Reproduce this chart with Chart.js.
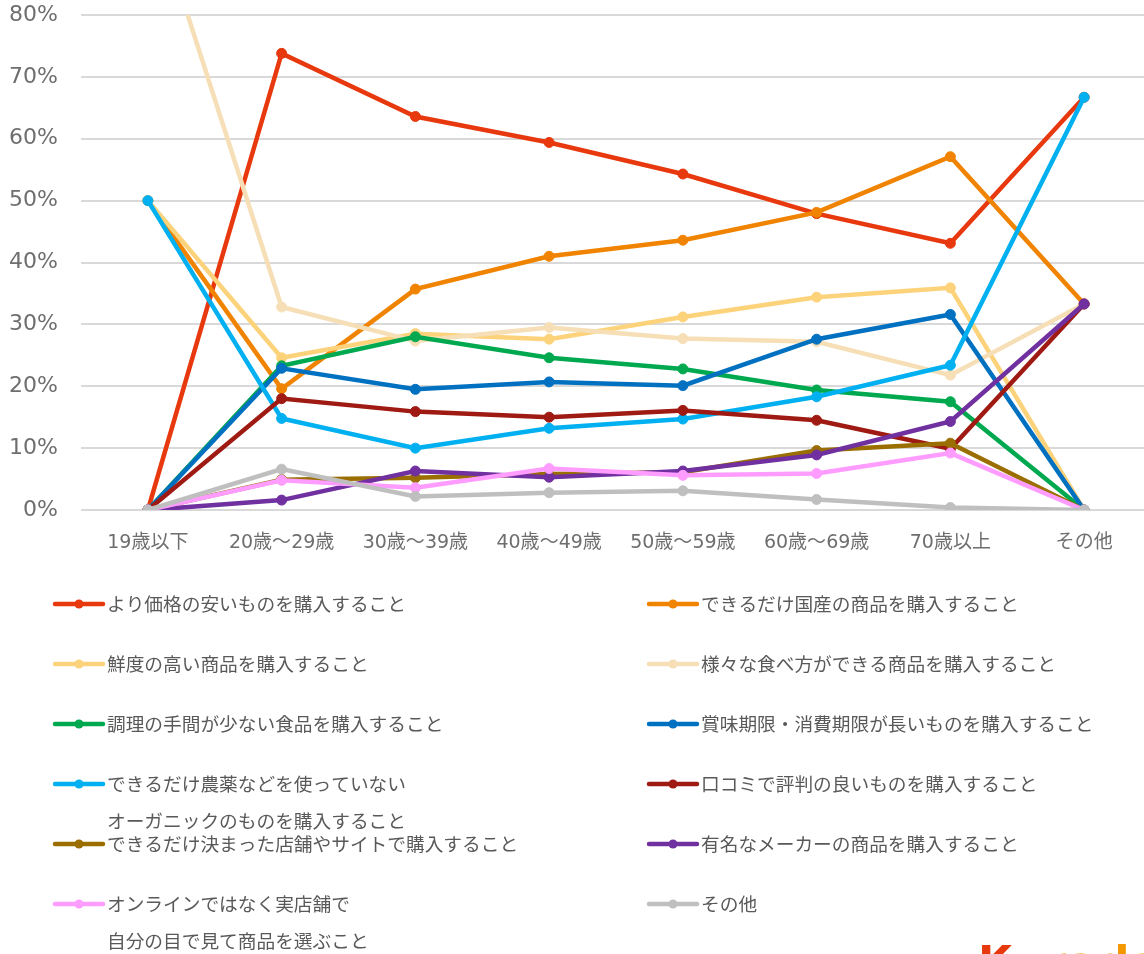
<!DOCTYPE html>
<html lang="ja">
<head>
<meta charset="utf-8">
<title>年代別 購入時に意識していること</title>
<script src="https://cdn.jsdelivr.net/npm/chart.js@4/dist/chart.umd.min.js"></script>
<style>
  html, body { margin: 0; padding: 0; background: #fff; overflow: hidden; }
  #wrap { position: relative; width: 1144px; height: 954px; overflow: hidden; }
  #chart { position: absolute; left: 0; top: 0; }
  .logo {
    position: absolute; left: 978px; top: 937px;
    font: bold 44px "DejaVu Sans", sans-serif; letter-spacing: 1px;
    color: #f39800; white-space: nowrap;
  }
  .logo span { color: #e8380d; }
</style>
</head>
<body>
<div id="wrap">
  <canvas id="chart" width="1160" height="954"></canvas>
  <div class="logo"><span>K</span>uradashi</div>
</div>
<script>
  // 年代カテゴリ
  const ageGroups = ['19歳以下', '20歳～29歳', '30歳～39歳', '40歳～49歳', '50歳～59歳', '60歳～69歳', '70歳以上', 'その他'];

  // 項目ごとの割合(%)
  const cheaper     = [0, 73.8, 63.6, 59.4, 54.3, 47.9, 43.1, 66.7];
  const domestic    = [50, 19.6, 35.7, 41.0, 43.6, 48.1, 57.1, 33.3];
  const freshness   = [50, 24.6, 28.5, 27.6, 31.2, 34.4, 35.9, 0];
  const versatile   = [100, 32.8, 27.3, 29.5, 27.7, 27.2, 21.8, 33.3];
  const easyCook    = [0, 23.3, 28.0, 24.6, 22.8, 19.4, 17.5, 0];
  const longExpiry  = [0, 22.9, 19.5, 20.7, 20.1, 27.6, 31.6, 0];
  const organic     = [50, 14.8, 10.0, 13.2, 14.7, 18.3, 23.4, 66.7];
  const reviews     = [0, 18.0, 15.9, 15.0, 16.1, 14.5, 9.9, 33.3];
  const sameShop    = [0, 4.9, 5.2, 5.8, 6.1, 9.6, 10.8, 0];
  const famousMaker = [0, 1.6, 6.3, 5.3, 6.3, 8.9, 14.3, 33.3];
  const realStore   = [0, 4.8, 3.6, 6.7, 5.6, 5.9, 9.2, 0];
  const others      = [0, 6.6, 2.2, 2.8, 3.1, 1.7, 0.4, 0];

  // 目盛り
  const yTicks = [0, 10, 20, 30, 40, 50, 60, 70, 80];

  const series = [
    { label: ['より価格の安いものを購入すること'], data: cheaper, color: '#e8380d' },
    { label: ['できるだけ国産の商品を購入すること'], data: domestic, color: '#f08300' },
    { label: ['鮮度の高い商品を購入すること'], data: freshness, color: '#fcd27a' },
    { label: ['様々な食べ方ができる商品を購入すること'], data: versatile, color: '#f6dfb6' },
    { label: ['調理の手間が少ない食品を購入すること'], data: easyCook, color: '#00a94f' },
    { label: ['賞味期限・消費期限が長いものを購入すること'], data: longExpiry, color: '#0070c0' },
    { label: ['できるだけ農薬などを使っていない', 'オーガニックのものを購入すること'], data: organic, color: '#00b0f0' },
    { label: ['口コミで評判の良いものを購入すること'], data: reviews, color: '#9e1a12' },
    { label: ['できるだけ決まった店舗やサイトで購入すること'], data: sameShop, color: '#9a6e00' },
    { label: ['有名なメーカーの商品を購入すること'], data: famousMaker, color: '#7030a0' },
    { label: ['オンラインではなく実店舗で', '自分の目で見て商品を選ぶこと'], data: realStore, color: '#ff9cff' },
    { label: ['その他'], data: others, color: '#bfbfbf' }
  ];

  const datasets = series.map((s, i) => ({
    label: s.label,
    data: s.data,
    borderColor: s.color,
    backgroundColor: s.color,
    pointBackgroundColor: s.color,
    pointBorderColor: s.color,
    borderWidth: 4.5,
    pointRadius: 5,
    pointBorderWidth: 1,
    pointHoverRadius: 5,
    tension: 0,
    order: series.length - i   // 後の系列を上に重ねる
  }));

  const textColor = '#595959';
  const tickColor = '#6e6e6e';

  // 2列の凡例を下の余白に描く
  const gridLegend = {
    id: 'gridLegend',
    afterDraw(chart) {
      const ctx = chart.ctx;
      ctx.save();
      ctx.font = '18.7px "Noto Sans CJK JP", sans-serif';
      ctx.textBaseline = 'middle';
      chart.data.datasets.forEach((ds, i) => {
        const col = i % 2;
        const row = Math.floor(i / 2);
        const x0 = col === 0 ? 53 : 647;
        const y = 604 + row * 60;
        ctx.strokeStyle = ds.borderColor;
        ctx.lineWidth = 4.5;
        ctx.lineCap = 'round';
        ctx.beginPath();
        ctx.moveTo(x0 + 2, y);
        ctx.lineTo(x0 + 50, y);
        ctx.stroke();
        ctx.fillStyle = ds.borderColor;
        ctx.beginPath();
        ctx.arc(x0 + 26, y, 4.5, 0, Math.PI * 2);
        ctx.fill();
        ctx.fillStyle = textColor;
        ds.label.forEach((line, j) => {
          ctx.fillText(line, x0 + 54, y + j * 37);
        });
      });
      ctx.restore();
    }
  };

  const config = {
    type: 'line',
    data: { labels: ageGroups, datasets: datasets },
    options: {
      responsive: false,
      animation: false,
      events: [],
      layout: { padding: { top: 15, right: 9, left: 0, bottom: 0 } },
      plugins: {
        legend: { display: false },
        tooltip: { enabled: false }
      },
      scales: {
        x: {
          offset: true,
          grid: { display: false },
          border: { display: false },
          ticks: {
            color: tickColor,
            padding: 14,
            maxRotation: 0,
            font: { family: '"DejaVu Sans", "Noto Sans CJK JP", sans-serif', size: 19 }
          },
          afterFit(scale) { scale.height = 444; }
        },
        y: {
          min: 0,
          max: 80,
          afterBuildTicks(scale) { scale.ticks = yTicks.map(v => ({ value: v })); },
          grid: { color: '#d9d9d9', lineWidth: 2, drawTicks: false },
          border: { display: false },
          ticks: {
            color: tickColor,
            padding: 23,
            callback: v => v + '%',
            font: { family: '"DejaVu Sans", "Noto Sans CJK JP", sans-serif', size: 22 }
          },
          afterFit(scale) {
            scale.width = 81;
            scale.paddingTop = 0;
            scale.paddingBottom = 0;
          }
        }
      }
    },
    plugins: [gridLegend]
  };

  const ctx = document.getElementById('chart').getContext('2d');
  new Chart(ctx, config);
</script>
</body>
</html>
